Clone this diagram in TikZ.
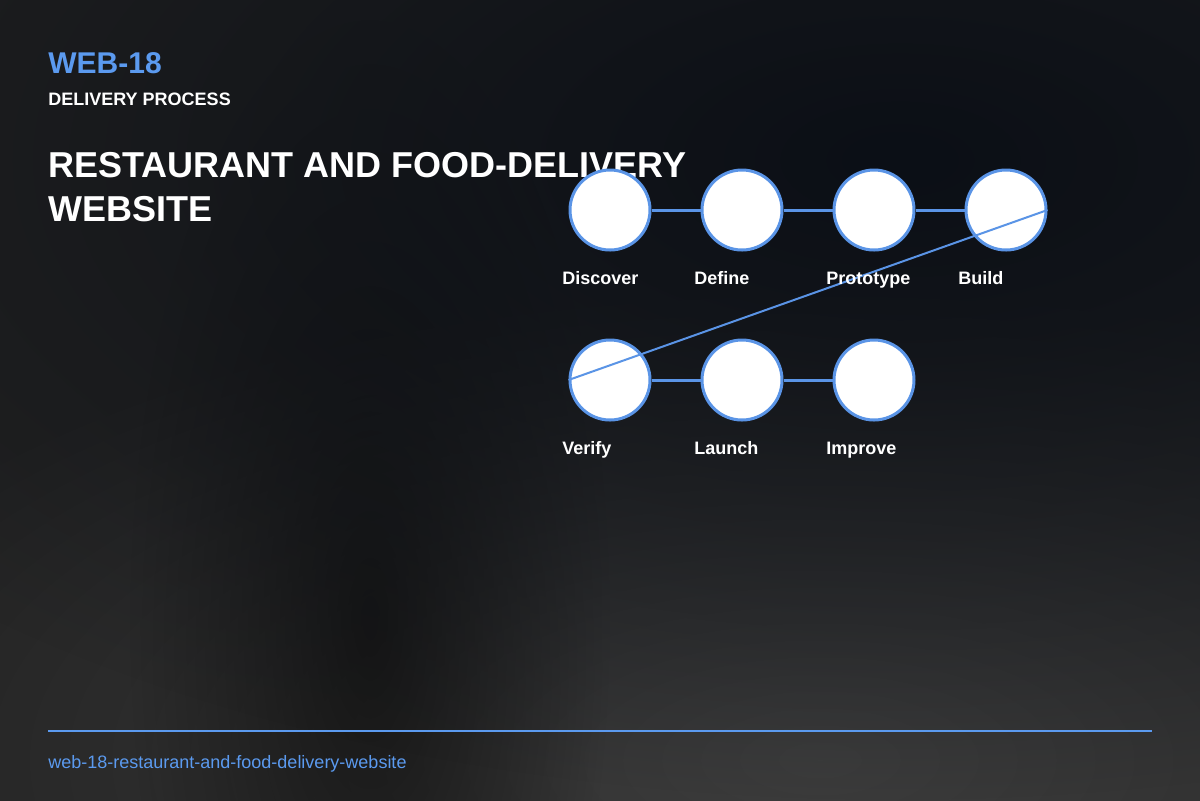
\documentclass[tikz,border=0pt]{standalone}
\usepackage{fontspec}
\setmainfont{Liberation Sans}
\usepackage{xcolor}
\usetikzlibrary{fadings}
\definecolor{accent}{HTML}{5B9AEF}
\definecolor{ring}{HTML}{5A94E6}
\definecolor{bgbase}{HTML}{212121}
\definecolor{bgnavy}{HTML}{0B0F16}
\definecolor{bglight}{HTML}{3D3D3D}
\definecolor{bgdark}{HTML}{101010}
\tikzfading[name=softspot, inner color=transparent!0, outer color=transparent!100]

\begin{document}
\begin{tikzpicture}[x=0.5pt,y=-0.5pt,
  stage/.style={minimum size=40pt,draw=ring,line width=1.5pt,fill=white,circle,inner sep=0pt},
  stagelabel/.style={anchor=base west,inner sep=0pt,text=white,font=\fontsize{9pt}{11pt}\selectfont\bfseries},
  link/.style={draw=ring,line width=1.5pt},
  jump/.style={draw=ring,line width=1pt}]
\useasboundingbox (0,0) rectangle (1200,800);
% background
\fill[bgbase] (-6,-6) rectangle (1206,806);
\begin{scope}
\clip (-6,-6) rectangle (1206,806);
\fill[bglight,path fading=softspot] (820,760) ellipse (1100 and 480);
\fill[bgdark,path fading=softspot,fill opacity=0.8] (370,620) ellipse (240 and 600);
\fill[bgnavy,path fading=softspot] (900,160) ellipse (1300 and 640);
\end{scope}
% header
\draw (48,73) node[anchor=base west,inner sep=0pt,text=accent,font=\fontsize{15pt}{18pt}\selectfont\bfseries](code) {WEB-18};
\draw (48,105) node[anchor=base west,inner sep=0pt,text=white,font=\fontsize{9pt}{11pt}\selectfont\bfseries](kind) {DELIVERY PROCESS};
\draw (48,177) node[anchor=base west,inner sep=0pt,text=white,font=\fontsize{18pt}{22pt}\selectfont\bfseries](title) {RESTAURANT AND FOOD-DELIVERY};
\draw (48,221) node[anchor=base west,inner sep=0pt,text=white,font=\fontsize{18pt}{22pt}\selectfont\bfseries](title2) {WEBSITE};
% stages
\draw (610,210) node[stage](discover) {};
\draw (742,210) node[stage](define) {};
\draw (874,210) node[stage](prototype) {};
\draw (1006,210) node[stage](build) {};
\draw (610,380) node[stage](verify) {};
\draw (742,380) node[stage](launch) {};
\draw (874,380) node[stage](improve) {};
\draw[link] (discover) -- (define);
\draw[link] (define) -- (prototype);
\draw[link] (prototype) -- (build);
\draw[link] (verify) -- (launch);
\draw[link] (launch) -- (improve);
\draw[jump] (build.east) -- (verify.west);
% labels
\draw (562,284) node[stagelabel](ldiscover) {Discover};
\draw (694,284) node[stagelabel](ldefine) {Define};
\draw (826,284) node[stagelabel](lprototype) {Prototype};
\draw (958,284) node[stagelabel](lbuild) {Build};
\draw (562,454) node[stagelabel](lverify) {Verify};
\draw (694,454) node[stagelabel](llaunch) {Launch};
\draw (826,454) node[stagelabel](limprove) {Improve};
% footer
\draw (48,731) coordinate(rulestart) (1152,731) coordinate(ruleend);
\draw[accent,line width=1pt] (rulestart) -- (ruleend);
\draw (48,768) node[anchor=base west,inner sep=0pt,text=accent,font=\fontsize{9pt}{11pt}\selectfont](slug) {web-18-restaurant-and-food-delivery-website};
\end{tikzpicture}
\end{document}
